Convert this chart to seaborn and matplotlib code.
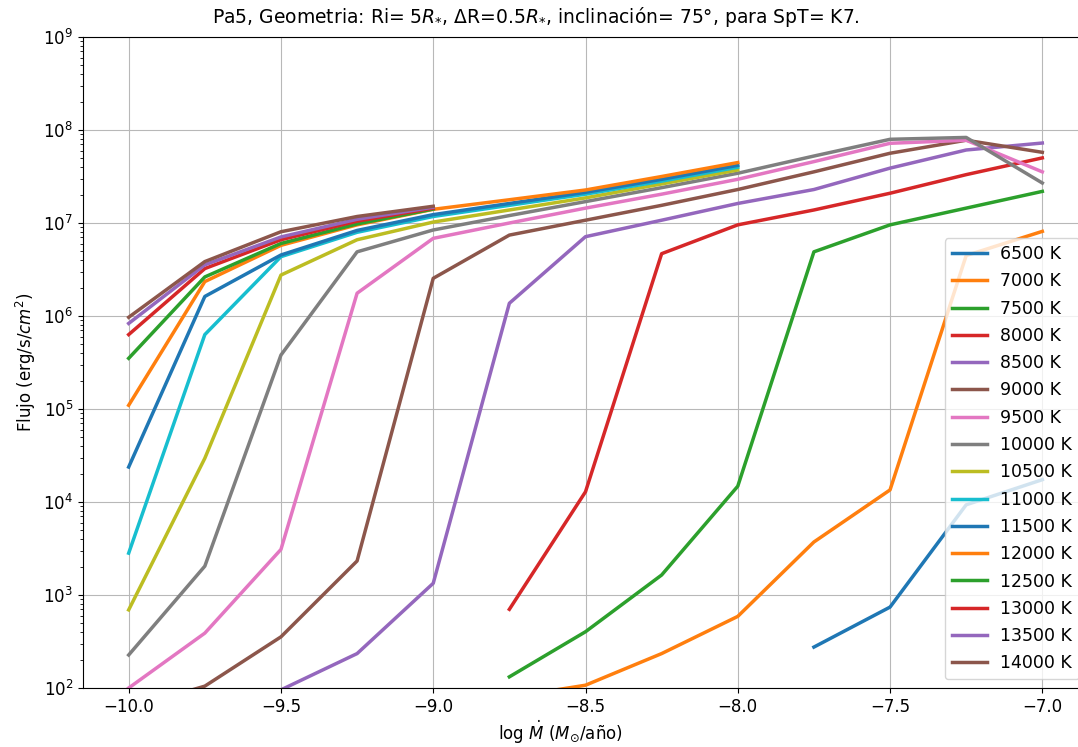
import numpy as np
import pandas as pd
import matplotlib
matplotlib.use("Agg")
import matplotlib.pyplot as plt
import seaborn as sns

nan = np.nan
log_mdot = [-10.0, -9.75, -9.5, -9.25, -9.0, -8.75, -8.5, -8.25, -8.0, -7.75, -7.5, -7.25, -7.0]

temps = ["6500 K", "7000 K", "7500 K", "8000 K", "8500 K", "9000 K", "9500 K", "10000 K",
         "10500 K", "11000 K", "11500 K", "12000 K", "12500 K", "13000 K", "13500 K", "14000 K"]

# log10 of flux values
logf_6500 = [nan, nan, nan, nan, nan, nan, nan, nan, nan, 2.44, 2.87, 3.97, 4.24]
logf_7000 = [nan, nan, nan, nan, nan, 1.90, 2.03, 2.37, 2.77, 3.57, 4.13, 6.65, 6.91]
logf_7500 = [nan, nan, nan, nan, nan, 2.12, 2.605, 3.215, 4.17, 6.69, 6.98, 7.16, 7.34]
logf_8000 = [nan, nan, nan, nan, nan, 2.846, 4.11, 6.67, 6.98, 7.14, 7.32, 7.52, 7.70]
logf_8500 = [nan, nan, 1.98, 2.37, 3.126, 6.137, 6.853, 7.03, 7.21, 7.36, 7.59, 7.785, 7.86]
logf_9000 = [1.78, 2.02, 2.55, 3.366, 6.405, 6.87, 7.03, 7.19, 7.36, 7.55, 7.75, 7.89, 7.76]
logf_9500 = [2.0, 2.59, 3.49, 6.245, 6.835, 7.0, 7.16, 7.31, 7.47, 7.66, 7.857, 7.89, 7.55]
logf_10000 = [2.355, 3.31, 5.58, 6.69, 6.925, 7.08, 7.23, 7.38, 7.535, 7.72, 7.90, 7.92, 7.43]
logf_10500 = [2.84, 4.47, 6.44, 6.82, 7.01, 7.14, 7.27, 7.42, 7.57, nan, nan, nan, nan]
logf_11000 = [3.45, 5.80, 6.638, 6.90, 7.07, 7.19, 7.31, 7.45, 7.60, nan, nan, nan, nan]
logf_11500 = [4.376, 6.21, 6.656, 6.92, 7.09, 7.21, 7.33, 7.47, 7.62, nan, nan, nan, nan]
logf_12000 = [5.04, 6.37, 6.76, 6.98, 7.147, 7.25, 7.355, 7.50, 7.65, nan, nan, nan, nan]
logf_12500 = [5.545, 6.42, 6.78, 6.99, 7.15, nan, nan, nan, nan, nan, nan, nan, nan]
logf_13000 = [5.80, 6.51, 6.82, 7.02, 7.16, nan, nan, nan, nan, nan, nan, nan, nan]
logf_13500 = [5.92, 6.55, 6.85, 7.04, 7.17, nan, nan, nan, nan, nan, nan, nan, nan]
logf_14000 = [5.986, 6.585, 6.906, 7.07, 7.18, nan, nan, nan, nan, nan, nan, nan, nan]

series = [logf_6500, logf_7000, logf_7500, logf_8000, logf_8500, logf_9000, logf_9500,
          logf_10000, logf_10500, logf_11000, logf_11500, logf_12000, logf_12500,
          logf_13000, logf_13500, logf_14000]

rows = []
for t, s in zip(temps, series):
    for x, lf in zip(log_mdot, s):
        if not np.isnan(lf):
            rows.append({"logMdot": x, "flux": 10 ** lf, "T": t})
df = pd.DataFrame(rows)

tab10 = sns.color_palette("tab10", 10)
palette = {t: tab10[i % 10] for i, t in enumerate(temps)}

plt.rcParams["font.family"] = ["DejaVu Sans"]
fig = plt.figure(figsize=(10.78, 7.47), dpi=100)
ax = fig.add_axes([83 / 1078, 59 / 747, (1088 - 83) / 1078, (688 - 37) / 747])

sns.lineplot(data=df, x="logMdot", y="flux", hue="T", hue_order=temps, palette=palette,
             linewidth=2.5, ax=ax, legend=True, sort=True, errorbar=None)

ax.set_yscale("log")
ax.set_ylim(1e2, 1e9)
ax.set_xlim(-10.15, -6.85)
ax.set_xticks([-10.0, -9.5, -9.0, -8.5, -8.0, -7.5, -7.0])
ax.set_xticklabels(["\u221210.0", "\u22129.5", "\u22129.0", "\u22128.5", "\u22128.0", "\u22127.5", "\u22127.0"])
ax.grid(True, which="major", color="#b8b8b8", linewidth=0.8)
ax.tick_params(labelsize=12)

ax.set_title(r"Pa5, Geometria: Ri= 5$R_{*}$, $\Delta$R=0.5$R_{*}$, inclinación= 75°, para SpT= K7.",
             fontsize=13.5, x=(536 - 83) / 1005, pad=10)
ax.set_xlabel(r"log $\dot{M}$ ($M_{\odot}$/año)", fontsize=12)
ax.xaxis.set_label_coords((560 - 83) / 1005, -0.048)
ax.set_ylabel(r"Flujo (erg/s/$cm^2$)", fontsize=12)

handles, labels = ax.get_legend_handles_labels()
ax.legend(handles, labels, loc="lower right", fontsize=12.5, framealpha=0.8,
          labelspacing=0.535, borderaxespad=0.5)

fig.savefig("out.png", dpi=100)
